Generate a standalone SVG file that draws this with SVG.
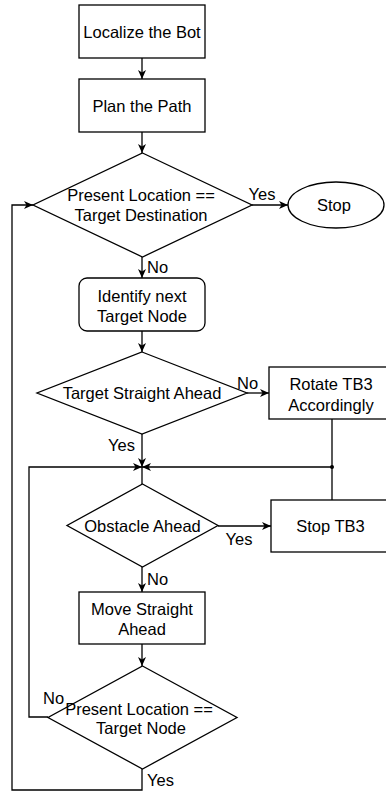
<svg xmlns="http://www.w3.org/2000/svg" width="386" height="792" viewBox="0 0 386 792">
  <style>
    .shape { fill: #ffffff; stroke: #000000; stroke-width: 1.3; }
    .edge { fill: none; stroke: #000000; stroke-width: 1.3; }
    .arrow { marker-end: url(#head); }
    text { font-family: "Liberation Sans", Arial, sans-serif; font-size: 16.5px; fill: #000000; }
    .c { text-anchor: middle; }
  </style>
  <defs>
    <marker id="head" markerUnits="userSpaceOnUse" markerWidth="10" markerHeight="8" refX="9" refY="4" orient="auto">
      <path d="M0,0 L9,4 L0,8 L2.5,4 z" fill="#000000"/>
    </marker>
  </defs>

  <!-- connectors -->
  <g id="connectors">
    <path class="edge arrow" d="M142,58 V79"/>
    <path class="edge arrow" d="M142,132 V153"/>
    <path class="edge arrow" d="M252,205 H288"/>
    <path class="edge arrow" d="M142,257 V278"/>
    <path class="edge arrow" d="M142,331 V352"/>
    <path class="edge arrow" d="M247,393 H269"/>
    <path class="edge arrow" d="M142,434 V467"/>
    <path class="edge arrow" d="M332,419 V467 H142"/>
    <path class="edge" d="M332,500 V467"/>
    <circle cx="332" cy="467" r="2" fill="#000000"/>
    <path class="edge" d="M142,467 V484"/>
    <path class="edge arrow" d="M218,526 H271"/>
    <path class="edge arrow" d="M142,567 V592"/>
    <path class="edge arrow" d="M142,644 V666"/>
    <path class="edge arrow" d="M48,717 H29 V467 H142"/>
    <path class="edge arrow" d="M142,769 V790 H12 V205 H33"/>

    <!-- branch labels -->
    <text x="262" y="200" class="c">Yes</text>
    <text x="147" y="273">No</text>
    <text x="237" y="389">No</text>
    <text x="135" y="451" text-anchor="end">Yes</text>
    <text x="239" y="545" class="c">Yes</text>
    <text x="147" y="585">No</text>
    <text x="43" y="704">No</text>
    <text x="147" y="786">Yes</text>
  </g>

  <g id="localize">
    <rect class="shape" x="79" y="5" width="126" height="53"/>
    <text x="142" y="37.5" class="c">Localize the Bot</text>
  </g>

  <g id="plan">
    <rect class="shape" x="79" y="79" width="126" height="53"/>
    <text x="142" y="111.5" class="c">Plan the Path</text>
  </g>

  <g id="check-destination">
    <polygon class="shape" points="142.5,153 252,205 142.5,257 33,205"/>
    <text x="141" y="201" class="c">Present Location ==</text>
    <text x="141" y="221" class="c">Target Destination</text>
  </g>

  <g id="stop">
    <ellipse class="shape" cx="336" cy="205" rx="48" ry="23"/>
    <text x="334" y="211" class="c">Stop</text>
  </g>

  <g id="identify">
    <rect class="shape" x="79" y="278" width="126" height="53" rx="8" ry="8"/>
    <text x="142" y="302" class="c">Identify next</text>
    <text x="142" y="322" class="c">Target Node</text>
  </g>

  <g id="check-straight">
    <polygon class="shape" points="142,352 247,393 142,434 37,393"/>
    <text x="142" y="399" class="c">Target Straight Ahead</text>
  </g>

  <g id="rotate">
    <rect class="shape" x="269" y="367" width="126" height="52"/>
    <text x="331" y="390" class="c">Rotate TB3</text>
    <text x="331" y="411" class="c">Accordingly</text>
  </g>

  <g id="check-obstacle">
    <polygon class="shape" points="142.5,484 218,525.5 142.5,567 67,525.5"/>
    <text x="142.5" y="532" class="c">Obstacle Ahead</text>
  </g>

  <g id="stop-tb3">
    <rect class="shape" x="271" y="500" width="126" height="52"/>
    <text x="330.5" y="532" class="c">Stop TB3</text>
  </g>

  <g id="move">
    <rect class="shape" x="79" y="592" width="126" height="52"/>
    <text x="142" y="615" class="c">Move Straight</text>
    <text x="142" y="635" class="c">Ahead</text>
  </g>

  <g id="check-node">
    <polygon class="shape" points="142.5,666 237,717.5 142.5,769 48,717.5"/>
    <text x="139" y="715" class="c">Present Location ==</text>
    <text x="141" y="734" class="c">Target Node</text>
  </g>
</svg>
